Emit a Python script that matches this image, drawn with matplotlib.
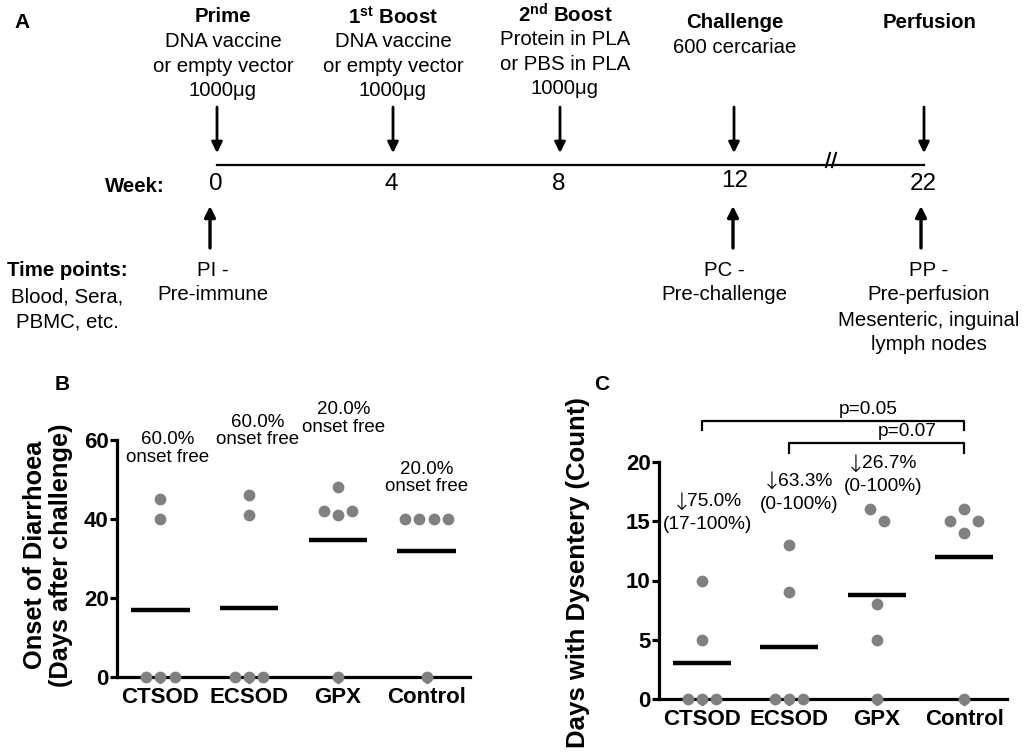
import matplotlib
matplotlib.use('Agg')
import matplotlib.pyplot as plt
import numpy as np

plt.rcParams['font.family'] = ['Liberation Sans', 'DejaVu Sans']
plt.rcParams['mathtext.fontset'] = 'custom'
plt.rcParams['mathtext.rm'] = 'Liberation Sans'
plt.rcParams['mathtext.bf'] = 'Liberation Sans:bold'

# ---- data ----
groups = ['CTSOD', 'ECSOD', 'GPX', 'Control']

# onset of diarrhoea, days after challenge (0 = onset free)
onset_days = [
    [45, 40, 0, 0, 0],
    [46, 41, 0, 0, 0],
    [48, 42, 41, 42, 0],
    [40, 40, 40, 40, 0],
]
onset_free = ['60.0%', '60.0%', '20.0%', '20.0%']

# days with dysentery (count)
dysentery_days = [
    [10, 5, 0, 0, 0],
    [13, 9, 0, 0, 0],
    [16, 15, 8, 5, 0],
    [15, 16, 15, 14, 0],
]
reduction = ['75.0%', '63.3%', '26.7%']
reduction_ci = ['(17-100%)', '(0-100%)', '(0-100%)']
pvalues = [('CTSOD', 'Control', 'p=0.05'), ('ECSOD', 'Control', 'p=0.07')]

# timeline schematic
weeks = ['0', '4', '8', '12', '22']
events = [
    (r'Prime', ['DNA vaccine', 'or empty vector', '1000μg']),
    (r'$\mathbf{1^{st}}$ Boost', ['DNA vaccine', 'or empty vector', '1000μg']),
    (r'$\mathbf{2^{nd}}$ Boost', ['Protein in PLA', 'or PBS in PLA', '1000μg']),
    ('Challenge', ['600 cercariae']),
    ('Perfusion', []),
]
samples = {0: ['PI -', 'Pre-immune'],
           3: ['PC -', 'Pre-challenge'],
           4: ['PP -', 'Pre-perfusion', 'Mesenteric, inguinal', 'lymph nodes']}

fig = plt.figure(figsize=(10.34, 7.55), dpi=100)
fs = 14.7

# overlay in pixel coordinates for the schematic / labels
ov = fig.add_axes([0, 0, 1, 1])
ov.set_xlim(0, 1034)
ov.set_ylim(755, 0)
ov.axis('off')

ov.text(22, 22, 'A', fontsize=15, fontweight='bold', ha='center', va='center')

# layout of the schematic (pixels)
week_x = [216, 391, 559, 735, 923]
head_x = [223, 393, 565, 735, 930]
head_y = [17, 17, 15, 23, 23]
arrow_dx = [1, 2, 1, -1, 1]

ov.plot([217, 924], [165, 165], color='black', lw=1.6)
# axis break mark
for bx in [828, 834]:
    ov.plot([bx - 2, bx + 2], [167, 153], color='black', lw=1.5)

for i, (title, lines) in enumerate(events):
    ov.text(head_x[i], head_y[i], title, fontsize=fs, fontweight='bold',
            ha='center', va='center')
    step = 24.5
    for j, ln in enumerate(lines):
        ov.text(head_x[i], head_y[i] + step * (j + 1), ln, fontsize=fs,
                ha='center', va='center')
    ax_x = week_x[i] + arrow_dx[i]
    ov.annotate('', xy=(ax_x, 153), xytext=(ax_x, 107),
                arrowprops=dict(arrowstyle='-|>', lw=2, color='black',
                                mutation_scale=16, shrinkA=0, shrinkB=0))
    ov.text(week_x[i], 184 if weeks[i] != '12' else 181, weeks[i],
            fontsize=17.5, ha='center', va='center')

ov.text(165, 186, 'Week:', fontsize=fs, fontweight='bold', ha='right', va='center')
ov.text(67, 270, 'Time points:', fontsize=fs, fontweight='bold', ha='center', va='center')
ov.text(67, 297, 'Blood, Sera,', fontsize=fs, ha='center', va='center')
ov.text(67, 322, 'PBMC, etc.', fontsize=fs, ha='center', va='center')

for i, lines in samples.items():
    ux = [210, 0, 0, 733, 921][i]
    ov.annotate('', xy=(ux, 206), xytext=(ux, 248),
                arrowprops=dict(arrowstyle='-|>', lw=2.4, color='black',
                                mutation_scale=16, shrinkA=0, shrinkB=0))
    cx = [213, 0, 0, 724, 929][i]
    for j, ln in enumerate(lines):
        ov.text(cx, 270 + 25 * j, ln, fontsize=fs, ha='center', va='center')

ov.text(62, 384, 'B', fontsize=15, fontweight='bold', ha='center', va='center')
ov.text(602, 384, 'C', fontsize=15, fontweight='bold', ha='center', va='center')

ov.text(48, 555, 'Onset of Diarrhoea\n(Days after challenge)', fontsize=18.3,
        fontweight='bold', rotation=90, ha='center', va='center', linespacing=1.15)
ov.text(578, 573, 'Days with Dysentery (Count)', fontsize=18.5,
        fontweight='bold', rotation=90, ha='center', va='center')


def row_offsets(vals, tol=1.0, step=0.16):
    vals = np.asarray(vals, float)
    off = np.zeros(len(vals))
    done = np.zeros(len(vals), bool)
    for v in sorted(set(vals), reverse=True):
        idx = np.where(~done & (vals <= v) & (vals >= v - tol))[0]
        if len(idx) == 0:
            continue
        off[idx] = (np.arange(len(idx)) - (len(idx) - 1) / 2) * step
        done[idx] = True
    return off


def dot_panel(ax, data, ymax, yticks):
    for i, vals in enumerate(data):
        xs = i + row_offsets(vals)
        ax.scatter(xs, vals, s=72, color='#808080', zorder=4, clip_on=False,
                   linewidths=0)
        m = np.mean(vals)
        ax.hlines(m, i - 0.33, i + 0.33, color='black', lw=3.2, zorder=3)
    ax.set_xlim(-0.49, 3.49)
    ax.set_ylim(0, ymax)
    ax.set_yticks(yticks)
    ax.set_xticks(range(len(groups)))
    ax.set_xticklabels(groups)
    for s in ['top', 'right']:
        ax.spines[s].set_visible(False)
    for s in ['left', 'bottom']:
        ax.spines[s].set_linewidth(2.3)
    ax.tick_params(axis='y', width=2.3, length=5, pad=1, labelsize=16)
    ax.tick_params(axis='x', width=2.3, length=4, pad=3, labelsize=16)
    for lab in ax.get_xticklabels() + ax.get_yticklabels():
        lab.set_fontweight('bold')
    ax.patch.set_alpha(0)


# ---- panel B ----
axB = fig.add_axes([117 / 1034, 78 / 755, 353 / 1034, 237 / 755])
dot_panel(axB, onset_days, 60, [0, 20, 40, 60])
txt_xB = [0.08, 1.1, 2.07, 3.0]
txt_yB = [57.8, 62.3, 65.4, 50.4]
for i, pct in enumerate(onset_free):
    axB.text(txt_xB[i], txt_yB[i], pct + '\nonset free', fontsize=13.5,
             ha='center', va='center', linespacing=1.05, clip_on=False)

# ---- panel C ----
axC = fig.add_axes([659 / 1034, 56 / 755, 348 / 1034, 237 / 755])
dot_panel(axC, dysentery_days, 20, [0, 5, 10, 15, 20])
txt_xC = [0.07, 1.11, 2.07]
txt_yC = [15.7, 17.4, 18.9]
for i, (r, ci) in enumerate(zip(reduction, reduction_ci)):
    axC.text(txt_xC[i], txt_yC[i] - 0.95, ci, fontsize=13.8,
             ha='center', va='center', clip_on=False)
    num = axC.text(txt_xC[i] + 0.07, txt_yC[i] + 0.95, r, fontsize=13.8,
                   ha='center', va='center', clip_on=False)
    axC.annotate('↓', xy=(0, 0.45), xycoords=num, xytext=(3, 0),
                 textcoords='offset points', ha='right', va='center',
                 fontsize=17, family='DejaVu Sans', fontweight='light',
                 annotation_clip=False)

br_y = [23.5, 21.6]
lab_x = [1.9, 2.35]
for k, (g1, g2, p) in enumerate(pvalues):
    x1, x2 = groups.index(g1), groups.index(g2)
    y = br_y[k]
    axC.plot([x1, x1, x2, x2], [y - 0.8, y, y, y - 0.8], color='black',
             lw=1.6, clip_on=False)
    axC.text(lab_x[k], y + 0.95, p, fontsize=13.8, ha='center', va='center',
             clip_on=False)

fig.savefig('out.png', dpi=100)
